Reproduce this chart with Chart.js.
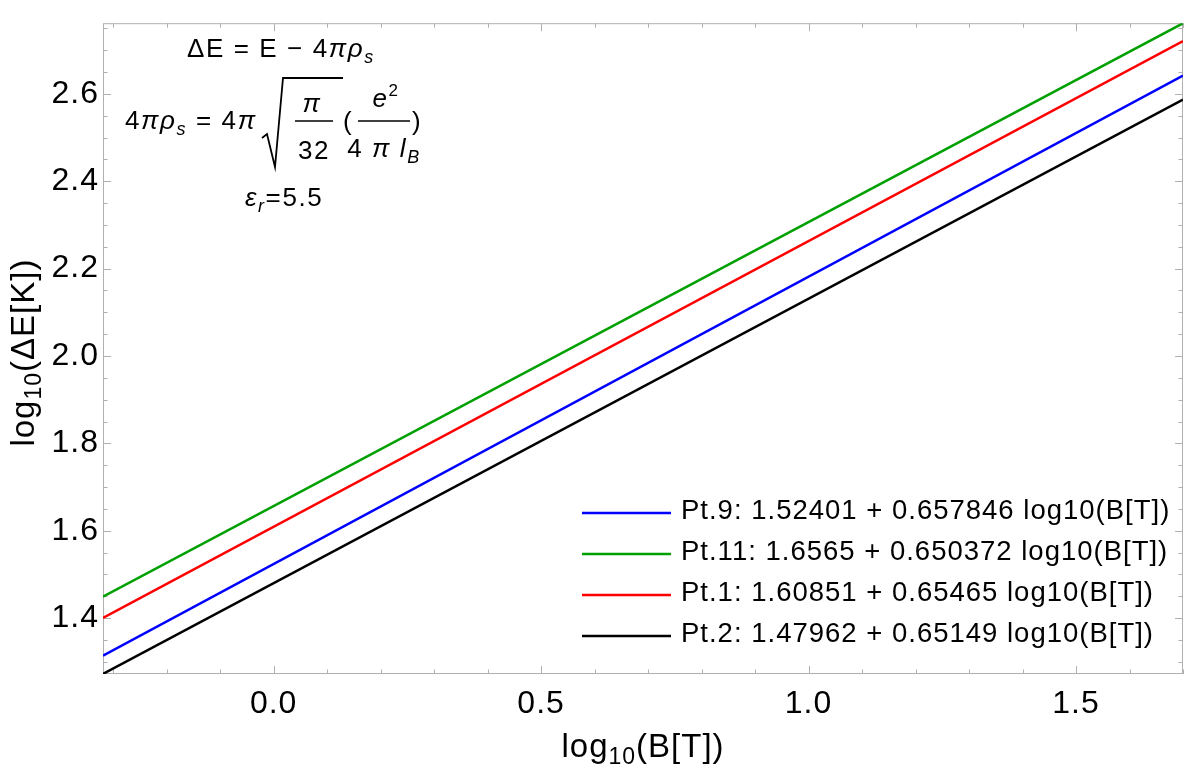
<!DOCTYPE html>
<html>
<head>
<meta charset="utf-8">
<script src="https://cdn.jsdelivr.net/npm/chart.js@4.4.1/dist/chart.umd.min.js"></script>
<style>
  html, body { margin: 0; padding: 0; background: #ffffff; }
  #wrap { width: 1194px; height: 778px; }
</style>
</head>
<body>
<div id="wrap"><canvas id="fitChart" width="1194" height="778"></canvas></div>
<script>
// log10(B[T]) at the two ends of the plotted range
const logB = [-0.319, 1.70];
// log10(dE[K]) at those two ends
const pt9 = [1.314, 2.642];
const pt11 = [1.449, 2.762];
const pt1 = [1.400, 2.721];
const pt2 = [1.272, 2.587];

const seriesLabels = [
  'Pt.9: 1.52401 + 0.657846 log10(B[T])',
  'Pt.11: 1.6565 + 0.650372 log10(B[T])',
  'Pt.1: 1.60851 + 0.65465 log10(B[T])',
  'Pt.2: 1.47962 + 0.65149 log10(B[T])',
];
const seriesColors = ['#0000ff', '#00a000', '#ff0000', '#000000'];
const xTickLabels = ['0.0', '0.5', '1.0', '1.5'];
const yTickLabels = ['1.4', '1.6', '1.8', '2.0', '2.2', '2.4', '2.6'];

const FONT = '"Liberation Sans", Arial, Helvetica, sans-serif';

const pickLabel = (list) => (value) => {
  const hit = list.find((l) => Math.abs(parseFloat(l) - value) < 1e-6);
  return hit || '';
};

// draws a run of text pieces (for sub/superscripts and italics)
function drawRuns(ctx, x, baseline, runs, measureOnly) {
  let cx = x;
  runs.forEach((r) => {
    ctx.font = (r.italic ? 'italic ' : '') + r.size + 'px ' + FONT;
    if (!measureOnly) ctx.fillText(r.t, cx, baseline + (r.dy || 0));
    cx += ctx.measureText(r.t).width + (r.gap || 0);
  });
  return cx - x;
}

function drawRunsCentered(ctx, cx, baseline, runs) {
  const w = drawRuns(ctx, 0, 0, runs, true);
  drawRuns(ctx, cx - w / 2, baseline, runs);
}

const frameTicks = {
  id: 'frameTicks',
  beforeDraw(chart) {
    chart.ctx.letterSpacing = '1px';
  },
  beforeDatasetsDraw(chart) {
    const { ctx, chartArea: a, scales: { x, y } } = chart;
    ctx.save();
    ctx.strokeStyle = '#b0b0b0';
    ctx.lineWidth = 1;
    ctx.strokeRect(a.left + 0.5, a.top + 0.5, a.right - a.left - 1, a.bottom - a.top - 1);
    ctx.beginPath();
    x.ticks.forEach((t) => {
      const px = Math.round(x.getPixelForValue(t.value)) + 0.5;
      const len = t.label ? 8 : 4.5;
      ctx.moveTo(px, a.bottom); ctx.lineTo(px, a.bottom - len);
      ctx.moveTo(px, a.top); ctx.lineTo(px, a.top + len);
    });
    y.ticks.forEach((t) => {
      const py = Math.round(y.getPixelForValue(t.value)) + 0.5;
      const len = t.label ? 8 : 4.5;
      ctx.moveTo(a.left, py); ctx.lineTo(a.left + len, py);
      ctx.moveTo(a.right, py); ctx.lineTo(a.right - len, py);
    });
    ctx.stroke();
    ctx.restore();
  },
};

const axisTitles = {
  id: 'axisTitles',
  afterDraw(chart) {
    const { ctx, chartArea: a } = chart;
    ctx.save();
    ctx.fillStyle = '#000';
    ctx.textBaseline = 'alphabetic';
    ctx.textAlign = 'left';
    const runs = (inner) => [
      { t: 'log', size: 33 },
      { t: '10', size: 23, dy: 7 },
      { t: inner, size: 33 },
    ];
    drawRunsCentered(ctx, (a.left + a.right) / 2, 757, runs('(B[T])'));
    ctx.translate(34, (a.top + a.bottom) / 2 + 4);
    ctx.rotate(-Math.PI / 2);
    drawRunsCentered(ctx, 0, 0, runs('(\u0394E[K])'));
    ctx.restore();
  },
};

const fitLegend = {
  id: 'fitLegend',
  afterDraw(chart) {
    const { ctx } = chart;
    const rows = [511, 552, 593, 634];
    ctx.save();
    ctx.textBaseline = 'middle';
    ctx.textAlign = 'left';
    ctx.font = '27.5px ' + FONT;
    chart.data.datasets.forEach((ds, i) => {
      ctx.strokeStyle = ds.borderColor;
      ctx.lineWidth = 2.5;
      ctx.beginPath();
      ctx.moveTo(582, rows[i] + 2);
      ctx.lineTo(671, rows[i] + 2);
      ctx.stroke();
      ctx.fillStyle = '#000';
      ctx.fillText(ds.label, 681, rows[i]);
    });
    ctx.restore();
  },
};

const formula = {
  id: 'formula',
  afterDraw(chart) {
    const { ctx } = chart;
    const s = 26;
    const sub = 18;
    ctx.save();
    ctx.letterSpacing = '1.6px';
    ctx.fillStyle = '#000';
    ctx.strokeStyle = '#000';
    ctx.textBaseline = 'alphabetic';
    ctx.textAlign = 'left';
    // row 1
    drawRuns(ctx, 187, 57, [
      { t: '\u0394E = E \u2212 4', size: s },
      { t: '\u03c0\u03c1', size: s, italic: true },
      { t: 's', size: sub, italic: true, dy: 6 },
    ]);
    // row 2
    drawRuns(ctx, 125, 129, [
      { t: '4', size: s },
      { t: '\u03c0\u03c1', size: s, italic: true },
      { t: 's', size: sub, italic: true, dy: 6 },
      { t: ' = 4', size: s },
      { t: '\u03c0', size: s, italic: true },
    ]);
    // radical
    ctx.lineWidth = 1.8;
    ctx.beginPath();
    ctx.moveTo(262, 138);
    ctx.lineTo(267, 134);
    ctx.lineTo(275, 167);
    ctx.lineTo(283, 78);
    ctx.lineTo(343, 78);
    ctx.stroke();
    // pi / 32
    drawRunsCentered(ctx, 312, 112, [{ t: '\u03c0', size: s, italic: true }]);
    ctx.lineWidth = 1.5;
    ctx.beginPath();
    ctx.moveTo(295, 121); ctx.lineTo(333, 121);
    ctx.stroke();
    drawRunsCentered(ctx, 314, 159, [{ t: '32', size: s }]);
    // ( e^2 / (4 pi l_B) )
    drawRuns(ctx, 343, 130, [{ t: '(', size: s }]);
    drawRunsCentered(ctx, 386, 107, [
      { t: 'e', size: s, italic: true },
      { t: '2', size: 17, dy: -11 },
    ]);
    ctx.beginPath();
    ctx.moveTo(358, 121); ctx.lineTo(410, 121);
    ctx.stroke();
    drawRunsCentered(ctx, 384, 157, [
      { t: '4 ', size: s },
      { t: '\u03c0 ', size: s, italic: true },
      { t: 'l', size: s, italic: true },
      { t: 'B', size: sub, italic: true, dy: 6 },
    ]);
    drawRuns(ctx, 412, 130, [{ t: ')', size: s }]);
    // row 3
    drawRuns(ctx, 245, 206, [
      { t: '\u03b5', size: s, italic: true },
      { t: 'r', size: sub, italic: true, dy: 6 },
      { t: '=5.5', size: s },
    ]);
    ctx.restore();
  },
};

const toPoints = (ys) => logB.map((x, i) => ({ x: x, y: ys[i] }));

new Chart(document.getElementById('fitChart'), {
  type: 'scatter',
  data: {
    datasets: [pt9, pt11, pt1, pt2].map((ys, i) => ({
      label: seriesLabels[i],
      data: toPoints(ys),
      showLine: true,
      borderColor: seriesColors[i],
      backgroundColor: seriesColors[i],
      borderWidth: 2.5,
      pointRadius: 0,
      fill: false,
    })),
  },
  options: {
    responsive: false,
    animation: false,
    events: [],
    layout: { padding: { top: 1, right: 1, left: 0, bottom: 0 } },
    plugins: { legend: { display: false }, tooltip: { enabled: false } },
    scales: {
      x: {
        type: 'linear',
        min: -0.319,
        max: 1.70,
        grid: { display: false, drawTicks: false },
        border: { display: false },
        ticks: {
          stepSize: 0.1,
          includeBounds: false,
          autoSkip: false,
          maxRotation: 0,
          padding: 11,
          color: '#000',
          font: { family: FONT, size: 32 },
          callback: pickLabel(xTickLabels),
        },
        afterFit: (scale) => { scale.height = 104; },
      },
      y: {
        type: 'linear',
        min: 1.2718,
        max: 2.7621,
        grid: { display: false, drawTicks: false },
        border: { display: false },
        ticks: {
          stepSize: 0.05,
          includeBounds: false,
          autoSkip: false,
          padding: 4,
          color: '#000',
          font: { family: FONT, size: 32 },
          callback: pickLabel(yTickLabels),
        },
        afterFit: (scale) => { scale.width = 103; },
      },
    },
  },
  plugins: [frameTicks, axisTitles, fitLegend, formula],
});
</script>
</body>
</html>
